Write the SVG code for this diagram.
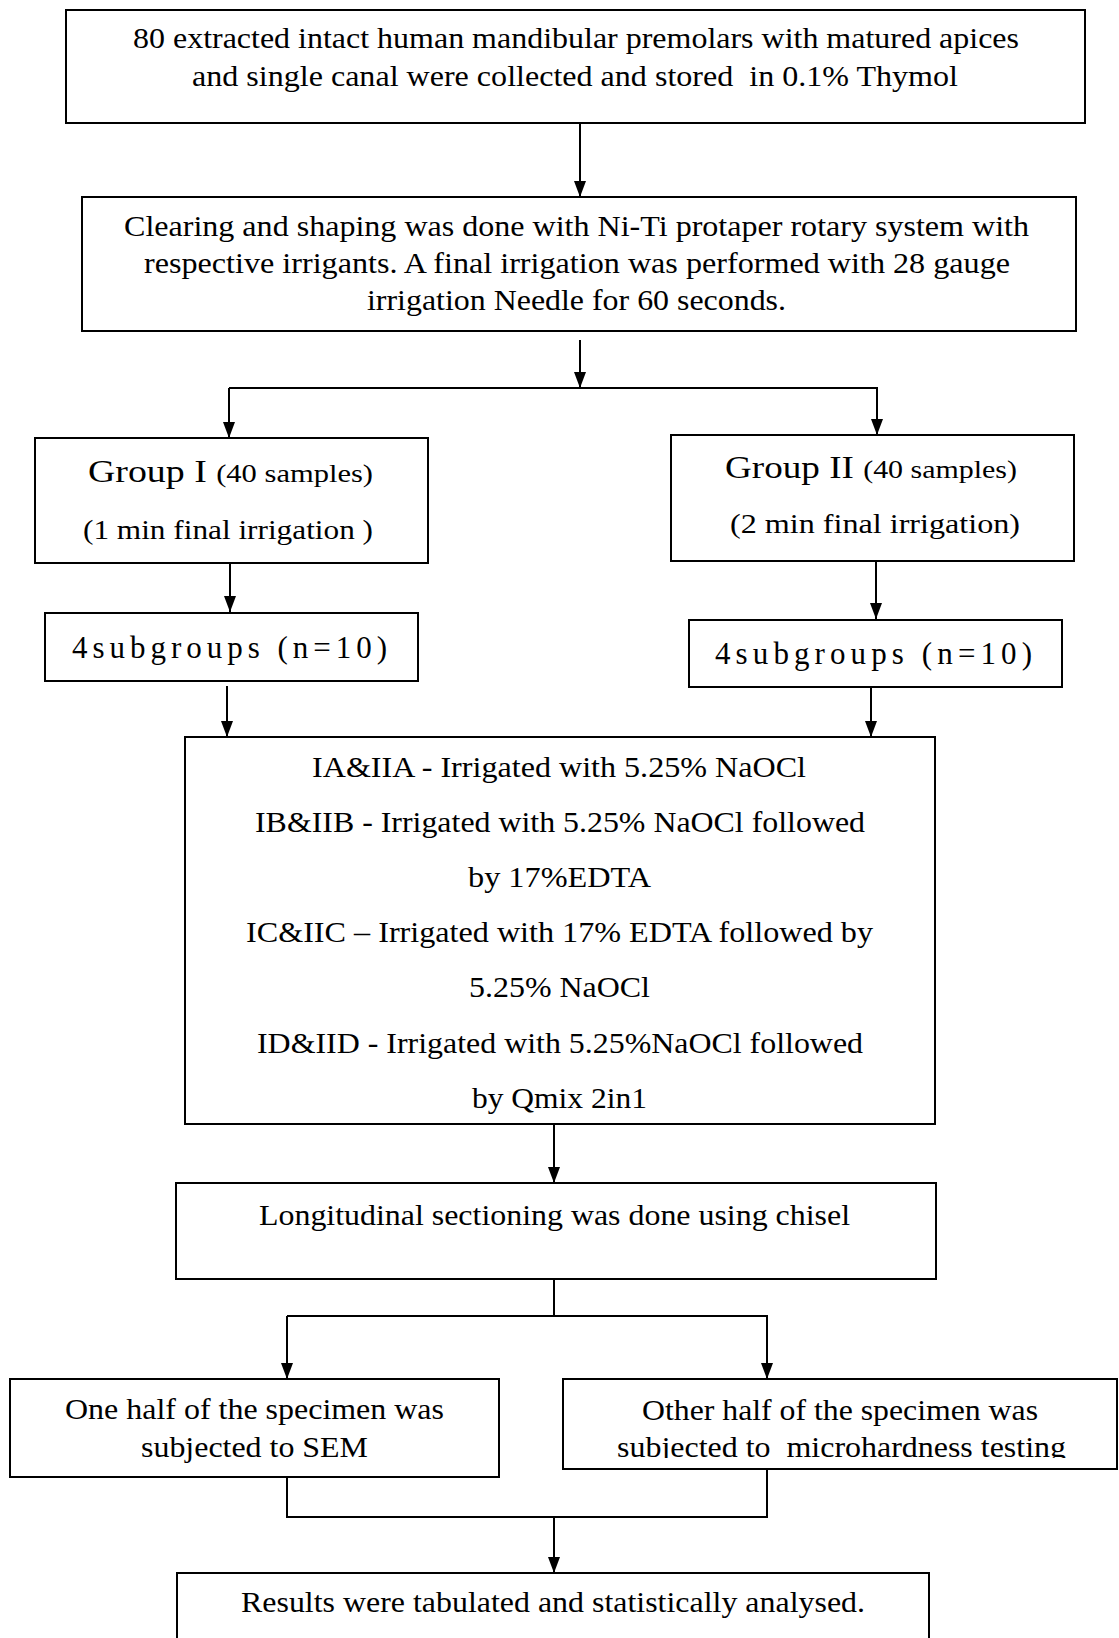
<svg xmlns="http://www.w3.org/2000/svg" width="1119" height="1638" viewBox="0 0 1119 1638">
<defs>
<style>
.box{fill:#fff;stroke:#000;stroke-width:2}
.t{font-family:"Liberation Serif","Times New Roman",serif;font-size:30px;fill:#000}
.big{font-size:31px}
.sm{font-size:27px}
.xs{font-size:25px}
.sub{font-size:31px}
.ln{fill:none;stroke:#000;stroke-width:2}
</style>
<marker id="ah" viewBox="0 0 16 12" refX="16" refY="6" markerWidth="16" markerHeight="12" markerUnits="userSpaceOnUse" orient="auto">
<path d="M0,0 L16,6 L0,12 z" fill="#000"/>
</marker>
<clipPath id="clipMicro"><rect x="562" y="1379" width="557" height="79"/></clipPath>
</defs>
<rect width="1119" height="1638" fill="#fff"/>

<g id="connectors">
<line class="ln" x1="580" y1="123" x2="580" y2="197" marker-end="url(#ah)"/>
<line class="ln" x1="580" y1="340" x2="580" y2="388" marker-end="url(#ah)"/>
<polyline class="ln" points="229,388 877,388 877,435" marker-end="url(#ah)"/>
<line class="ln" x1="229" y1="388" x2="229" y2="438" marker-end="url(#ah)"/>
<line class="ln" x1="230" y1="563" x2="230" y2="612" marker-end="url(#ah)"/>
<line class="ln" x1="876" y1="561" x2="876" y2="619" marker-end="url(#ah)"/>
<line class="ln" x1="227" y1="686" x2="227" y2="737" marker-end="url(#ah)"/>
<line class="ln" x1="871" y1="687" x2="871" y2="737" marker-end="url(#ah)"/>
<line class="ln" x1="554" y1="1125" x2="554" y2="1183" marker-end="url(#ah)"/>
<polyline class="ln" points="554,1279 554,1316"/>
<polyline class="ln" points="287,1316 767,1316 767,1379" marker-end="url(#ah)"/>
<line class="ln" x1="287" y1="1316" x2="287" y2="1379" marker-end="url(#ah)"/>
<polyline class="ln" points="287,1477 287,1517 767,1517 767,1469"/>
<line class="ln" x1="554" y1="1517" x2="554" y2="1573" marker-end="url(#ah)"/>
</g>

<g id="n1">
<rect class="box" x="66" y="10" width="1019" height="113"/>
<text class="t" x="133" y="48" textLength="886" lengthAdjust="spacingAndGlyphs">80 extracted intact human mandibular premolars with matured apices</text>
<text class="t" x="192" y="86" textLength="766" lengthAdjust="spacingAndGlyphs" xml:space="preserve">and single canal were collected and stored  in 0.1% Thymol</text>
</g>

<g id="n2">
<rect class="box" x="82" y="197" width="994" height="134"/>
<text class="t" x="124" y="236" textLength="905" lengthAdjust="spacingAndGlyphs">Clearing and shaping was done with Ni-Ti protaper rotary system with</text>
<text class="t" x="144" y="273" textLength="866" lengthAdjust="spacingAndGlyphs">respective irrigants. A final irrigation was performed with 28 gauge</text>
<text class="t" x="367" y="310" textLength="419" lengthAdjust="spacingAndGlyphs">irrigation Needle for 60 seconds.</text>
</g>

<g id="n3">
<rect class="box" x="35" y="438" width="393" height="125"/>
<text class="t" x="88" y="482" textLength="285" lengthAdjust="spacingAndGlyphs"><tspan class="big">Group I </tspan><tspan class="xs">(40 samples)</tspan></text>
<text class="t sm" x="83" y="539" textLength="290" lengthAdjust="spacingAndGlyphs">(1 min final irrigation )</text>
</g>

<g id="n4">
<rect class="box" x="671" y="435" width="403" height="126"/>
<text class="t" x="725" y="478" textLength="292" lengthAdjust="spacingAndGlyphs"><tspan class="big">Group II </tspan><tspan class="xs">(40 samples)</tspan></text>
<text class="t sm" x="730" y="533" textLength="290" lengthAdjust="spacingAndGlyphs">(2 min final irrigation)</text>
</g>

<g id="n5">
<rect class="box" x="45" y="613" width="373" height="68"/>
<text class="t sub" x="72" y="658" textLength="315" lengthAdjust="spacing">4subgroups (n=10)</text>
</g>

<g id="n6">
<rect class="box" x="689" y="620" width="373" height="67"/>
<text class="t sub" x="715" y="664" textLength="317" lengthAdjust="spacing">4subgroups (n=10)</text>
</g>

<g id="n7">
<rect class="box" x="185" y="737" width="750" height="387"/>
<text class="t" x="312" y="777" textLength="494" lengthAdjust="spacingAndGlyphs">IA&amp;IIA - Irrigated with 5.25% NaOCl</text>
<text class="t" x="255" y="832" textLength="610" lengthAdjust="spacingAndGlyphs">IB&amp;IIB - Irrigated with 5.25% NaOCl followed</text>
<text class="t" x="468" y="887" textLength="183" lengthAdjust="spacingAndGlyphs">by 17%EDTA</text>
<text class="t" x="246" y="942" textLength="627" lengthAdjust="spacingAndGlyphs">IC&amp;IIC – Irrigated with 17% EDTA followed by</text>
<text class="t" x="469" y="997" textLength="181" lengthAdjust="spacingAndGlyphs">5.25% NaOCl</text>
<text class="t" x="257" y="1053" textLength="606" lengthAdjust="spacingAndGlyphs">ID&amp;IID - Irrigated with 5.25%NaOCl followed</text>
<text class="t" x="472" y="1108" textLength="175" lengthAdjust="spacingAndGlyphs">by Qmix 2in1</text>
</g>

<g id="n8">
<rect class="box" x="176" y="1183" width="760" height="96"/>
<text class="t" x="259" y="1225" textLength="591" lengthAdjust="spacingAndGlyphs">Longitudinal sectioning was done using chisel</text>
</g>

<g id="n9">
<rect class="box" x="10" y="1379" width="489" height="98"/>
<text class="t" x="65" y="1419" textLength="379" lengthAdjust="spacingAndGlyphs">One half of the specimen was</text>
<text class="t" x="141" y="1457" textLength="227" lengthAdjust="spacingAndGlyphs">subjected to SEM</text>
</g>

<g id="n10">
<rect class="box" x="563" y="1379" width="554" height="90"/>
<text class="t" x="642" y="1420" textLength="396" lengthAdjust="spacingAndGlyphs">Other half of the specimen was</text>
<text class="t" x="617" y="1457" textLength="449" lengthAdjust="spacingAndGlyphs" clip-path="url(#clipMicro)" xml:space="preserve">subjected to  microhardness testing</text>
</g>

<g id="n11">
<rect class="box" x="177" y="1573" width="752" height="80"/>
<text class="t" x="241" y="1612" textLength="624" lengthAdjust="spacingAndGlyphs">Results were tabulated and statistically analysed.</text>
</g>
</svg>
